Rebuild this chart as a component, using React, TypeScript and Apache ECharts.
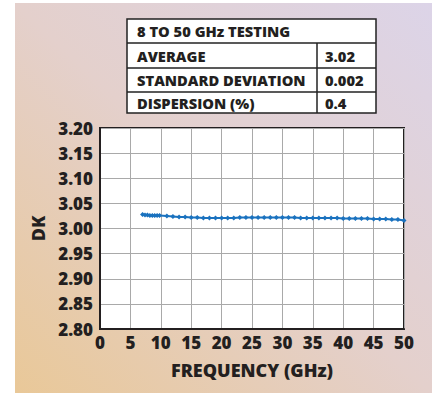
import React, { useEffect, useRef } from "react";
import * as echarts from "echarts";

const frequencies = [
  7.0, 7.4, 7.8, 8.2, 8.6, 9.0, 9.4, 9.8, 11, 12, 13, 14, 15, 16, 17, 18, 19, 20,
  21, 22, 23, 24, 25, 26, 27, 28, 29, 30, 31, 32, 33, 34, 35, 36, 37, 38, 39, 40,
  41, 42, 43, 44, 45, 46, 47, 48, 49, 50,
];
const dkValues = [
  3.028, 3.027, 3.027, 3.026, 3.026, 3.026, 3.026, 3.026, 3.025, 3.024, 3.023,
  3.023, 3.022, 3.022, 3.021, 3.021, 3.021, 3.021, 3.021, 3.021, 3.022, 3.022,
  3.022, 3.022, 3.022, 3.022, 3.022, 3.022, 3.022, 3.022, 3.021, 3.021, 3.021,
  3.021, 3.021, 3.021, 3.021, 3.020, 3.020, 3.020, 3.020, 3.020, 3.019, 3.019,
  3.019, 3.018, 3.018, 3.016,
];
const tableTitle = "8 TO 50 GHz TESTING";
const tableLabels = ["AVERAGE", "STANDARD DEVIATION", "DISPERSION (%)"];
const tableValues = ["3.02", "0.002", "0.4"];

const FONT = "'Open Sans'";
const W = 800;

export default function App() {
  const ref = useRef<HTMLDivElement>(null);
  useEffect(() => {
    if (!ref.current) return;
    const chart = echarts.init(ref.current, null, { renderer: "svg" });
    const tx0 = 127, tx1 = 376, tcol = 317;
    const rowY = [19, 43, 68, 92, 113];
    const graphics: any[] = [
      {
        type: "rect",
        z: -10,
        shape: { x: 15, y: 3, width: 417, height: 390 },
        style: {
          fill: new echarts.graphic.LinearGradient(0, 1, 1, 0, [
            { offset: 0, color: "#e9c898" },
            { offset: 0.5, color: "#e4d0cc" },
            { offset: 1, color: "#dcd4e8" },
          ]),
        },
        silent: true,
      },
      {
        type: "rect",
        shape: { x: tx0, y: rowY[0], width: tx1 - tx0, height: rowY[4] - rowY[0] },
        style: { fill: "#ffffff", stroke: "#222", lineWidth: 1.5 },
      },
    ];
    for (let i = 1; i < 4; i++) {
      graphics.push({
        type: "line",
        shape: { x1: tx0, y1: rowY[i], x2: tx1, y2: rowY[i] },
        style: { stroke: "#222", lineWidth: 1.5 },
      });
    }
    graphics.push({
      type: "line",
      shape: { x1: tcol, y1: rowY[1], x2: tcol, y2: rowY[4] },
      style: { stroke: "#222", lineWidth: 1.5 },
    });
    const tfont = `${W} 14.7px ${FONT}`;
    graphics.push({
      type: "text",
      x: 137,
      y: (rowY[0] + rowY[1]) / 2,
      style: { text: tableTitle, font: tfont, fill: "#231f20", verticalAlign: "middle" },
    });
    tableLabels.forEach((lab, i) => {
      const cy = (rowY[i + 1] + rowY[i + 2]) / 2;
      graphics.push({
        type: "text",
        x: 137,
        y: cy,
        style: { text: lab, font: tfont, fill: "#231f20", verticalAlign: "middle" },
      });
      graphics.push({
        type: "text",
        x: 325,
        y: cy,
        style: { text: tableValues[i], font: tfont, fill: "#231f20", verticalAlign: "middle" },
      });
    });

    const axFont = { fontFamily: FONT, fontWeight: W, fontSize: 17, color: "#231f20" };
    const nameFont = { fontFamily: FONT, fontWeight: W, fontSize: 18, color: "#231f20" };
    chart.setOption({
      animation: false,
      graphic: graphics,
      grid: {
        left: 100,
        top: 128,
        width: 304,
        height: 201,
        show: true,
        backgroundColor: "#ffffff",
        borderColor: "#231f20",
        borderWidth: 2,
      },
      xAxis: {
        type: "value",
        min: 0,
        max: 50,
        interval: 5,
        name: "FREQUENCY (GHz)",
        nameLocation: "middle",
        nameGap: 32,
        nameTextStyle: nameFont,
        axisLine: { show: true, lineStyle: { color: "#231f20", width: 2 } },
        axisTick: { show: false },
        axisLabel: { ...axFont, margin: 5 },
        splitLine: { show: true, lineStyle: { color: "#a9a9a9", width: 1 } },
      },
      yAxis: {
        type: "value",
        min: 2.8,
        max: 3.2,
        interval: 0.05,
        name: "DK",
        nameLocation: "middle",
        nameGap: 52,
        nameRotate: 90,
        nameTextStyle: nameFont,
        axisLine: { show: true, lineStyle: { color: "#231f20", width: 2 } },
        axisTick: { show: false },
        axisLabel: {
          ...axFont,
          margin: 7,
          formatter: (v: number) => v.toFixed(2),
        },
        splitLine: { show: true, lineStyle: { color: "#a9a9a9", width: 1 } },
      },
      series: [
        {
          type: "line",
          data: frequencies.map((f, i) => [f, dkValues[i]]),
          symbol: "diamond",
          symbolSize: 5,
          showSymbol: true,
          lineStyle: { color: "#1a72bf", width: 2 },
          itemStyle: { color: "#1a72bf" },
        },
      ],
    });
    return () => chart.dispose();
  }, []);
  return (
    <div
      ref={ref}
      style={{ position: "fixed", left: 0, top: 0, width: 434, height: 394, background: "#fff" }}
    />
  );
}
